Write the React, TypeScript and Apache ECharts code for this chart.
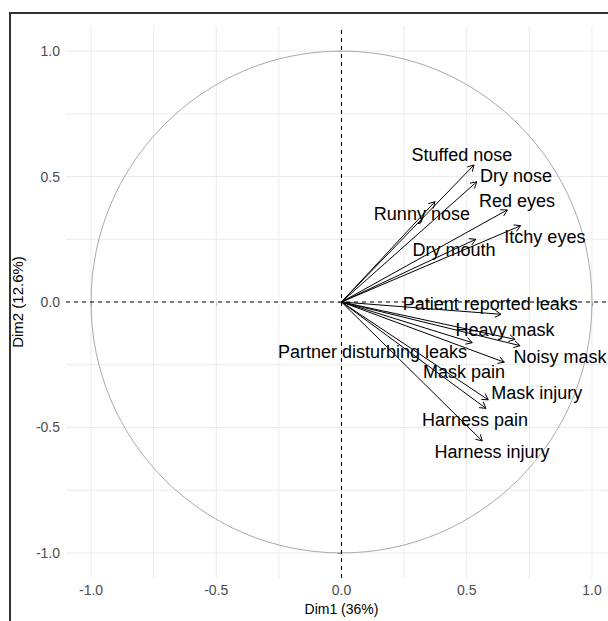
import React, { useEffect, useRef } from "react";
import * as echarts from "echarts";

// Variables of the PCA correlation circle
const variables = [
  "Stuffed nose",
  "Dry nose",
  "Runny nose",
  "Red eyes",
  "Itchy eyes",
  "Dry mouth",
  "Patient reported leaks",
  "Heavy mask",
  "Noisy mask",
  "Partner disturbing leaks",
  "Mask pain",
  "Mask injury",
  "Harness pain",
  "Harness injury",
];
// Coordinates (correlations) on Dim1 and Dim2
const dim1 = [0.529, 0.54, 0.373, 0.662, 0.715, 0.536, 0.637, 0.693, 0.713, 0.522, 0.65, 0.586, 0.577, 0.562];
const dim2 = [0.546, 0.479, 0.4, 0.367, 0.304, 0.25, -0.049, -0.149, -0.174, -0.162, -0.24, -0.39, -0.424, -0.554];
// Repelled label positions (in Dim coordinates)
const labelDim1 = [0.481, 0.697, 0.321, 0.701, 0.812, 0.449, 0.594, 0.653, 0.872, 0.124, 0.489, 0.78, 0.533, 0.601];
const labelDim2 = [0.586, 0.502, 0.351, 0.402, 0.259, 0.207, -0.008, -0.112, -0.219, -0.199, -0.279, -0.363, -0.47, -0.598];

const tickValues = [-1, -0.5, 0, 0.5, 1];
const gridValues = [-1, -0.75, -0.5, -0.25, 0, 0.25, 0.5, 0.75, 1];
const axisMin = -1.1;
const axisMax = 1.1;
const xTitle = "Dim1 (36%)";
const yTitle = "Dim2 (12.6%)";

const FONT = "'Liberation Sans', Arial, Helvetica, sans-serif";

export default function App() {
  const ref = useRef<HTMLDivElement>(null);

  useEffect(() => {
    document.body.style.margin = "0";
    document.body.style.overflow = "hidden";
    if (!ref.current) return;
    const chart = echarts.init(ref.current, undefined, { renderer: "svg" });

    const gridData: number[][] = [];
    gridValues.forEach((v) => {
      gridData.push([v, 0, 0]);
      gridData.push([0, v, 1]);
    });

    const option: any = {
      animation: false,
      backgroundColor: "#ffffff",
      grid: {
        left: 66,
        top: 26,
        width: 551,
        height: 552,
        containLabel: false,
        outerBoundsMode: "none",
      },
      xAxis: {
        type: "value",
        min: axisMin,
        max: axisMax,
        axisLine: { show: false },
        splitLine: { show: false },
        axisTick: {
          show: true,
          customValues: tickValues,
          length: 4,
          lineStyle: { color: "#333333", width: 1 },
        },
        axisLabel: {
          customValues: tickValues,
          formatter: (v: number) => v.toFixed(1),
          color: "#4D4D4D",
          fontSize: 14,
          fontFamily: FONT,
          margin: 5,
        },
        name: xTitle,
        nameLocation: "middle",
        nameGap: 23,
        nameTextStyle: { color: "#000000", fontSize: 14, fontFamily: FONT },
      },
      yAxis: {
        type: "value",
        min: axisMin,
        max: axisMax,
        axisLine: { show: false },
        splitLine: { show: false },
        axisTick: {
          show: true,
          customValues: tickValues,
          length: 4,
          lineStyle: { color: "#333333", width: 1 },
        },
        axisLabel: {
          customValues: tickValues,
          formatter: (v: number) => v.toFixed(1),
          color: "#4D4D4D",
          fontSize: 14,
          fontFamily: FONT,
          margin: 6,
        },
        name: yTitle,
        nameLocation: "middle",
        nameRotate: 90,
        nameGap: 39,
        nameTextStyle: { color: "#000000", fontSize: 15, fontFamily: FONT },
      },
      graphic: [
        {
          type: "rect",
          shape: { x: 10, y: 13, width: 800, height: 800 },
          style: { fill: "none", stroke: "#333333", lineWidth: 2 },
          silent: true,
          z: 100,
        },
      ],
      series: [
        {
          type: "custom",
          name: "grid",
          silent: true,
          z: 1,
          data: gridData,
          renderItem: (params: any, api: any) => {
            const vertical = api.value(2) === 0;
            const v = vertical ? api.value(0) : api.value(1);
            const a = vertical ? api.coord([v, axisMin]) : api.coord([axisMin, v]);
            const b = vertical ? api.coord([v, axisMax]) : api.coord([axisMax, v]);
            return {
              type: "line",
              shape: { x1: a[0], y1: a[1], x2: b[0], y2: b[1] },
              style: { stroke: "#EBEBEB", lineWidth: 1 },
            };
          },
        },
        {
          type: "custom",
          name: "circle",
          silent: true,
          z: 2,
          data: [[0, 0]],
          renderItem: (params: any, api: any) => {
            const c = api.coord([api.value(0), api.value(1)]);
            const s = api.size([1, 1]);
            return {
              type: "ellipse",
              shape: { cx: c[0], cy: c[1], rx: s[0], ry: s[1] },
              style: { fill: "none", stroke: "#AAAAAA", lineWidth: 1 },
            };
          },
        },
        {
          type: "custom",
          name: "zero",
          silent: true,
          z: 3,
          data: [[0, 0, 0], [0, 0, 1]],
          renderItem: (params: any, api: any) => {
            const vertical = api.value(2) === 0;
            const a = vertical ? api.coord([0, axisMin]) : api.coord([axisMin, 0]);
            const b = vertical ? api.coord([0, axisMax]) : api.coord([axisMax, 0]);
            return {
              type: "line",
              shape: { x1: a[0], y1: a[1], x2: b[0], y2: b[1] },
              style: { stroke: "#000000", lineWidth: 1.1, lineDash: [4, 4] },
            };
          },
        },
        {
          type: "custom",
          name: "arrows",
          silent: true,
          z: 4,
          data: dim1.map((x, i) => [x, dim2[i]]),
          renderItem: (params: any, api: any) => {
            const p0 = api.coord([0, 0]);
            const p1 = api.coord([api.value(0), api.value(1)]);
            const ang = Math.atan2(p1[1] - p0[1], p1[0] - p0[0]);
            const L = 7;
            const da = Math.PI / 6;
            const h1 = [p1[0] - L * Math.cos(ang - da), p1[1] - L * Math.sin(ang - da)];
            const h2 = [p1[0] - L * Math.cos(ang + da), p1[1] - L * Math.sin(ang + da)];
            return {
              type: "group",
              children: [
                {
                  type: "line",
                  shape: { x1: p0[0], y1: p0[1], x2: p1[0], y2: p1[1] },
                  style: { stroke: "#000000", lineWidth: 1 },
                },
                {
                  type: "polyline",
                  shape: { points: [h1, p1, h2] },
                  style: { stroke: "#000000", lineWidth: 1, fill: "none" },
                },
              ],
            };
          },
        },
        {
          type: "custom",
          name: "labels",
          silent: true,
          z: 5,
          data: labelDim1.map((x, i) => [x, labelDim2[i], i]),
          renderItem: (params: any, api: any) => {
            const p = api.coord([api.value(0), api.value(1)]);
            return {
              type: "text",
              x: p[0],
              y: p[1],
              style: {
                text: variables[api.value(2)],
                x: 0,
                y: 0,
                fill: "#000000",
                fontSize: 18,
                fontFamily: FONT,
                align: "center",
                verticalAlign: "middle",
              },
            };
          },
        },
      ],
    };

    chart.setOption(option);
    return () => {
      chart.dispose();
    };
  }, []);

  return <div ref={ref} style={{ width: 640, height: 621 }} />;
}
